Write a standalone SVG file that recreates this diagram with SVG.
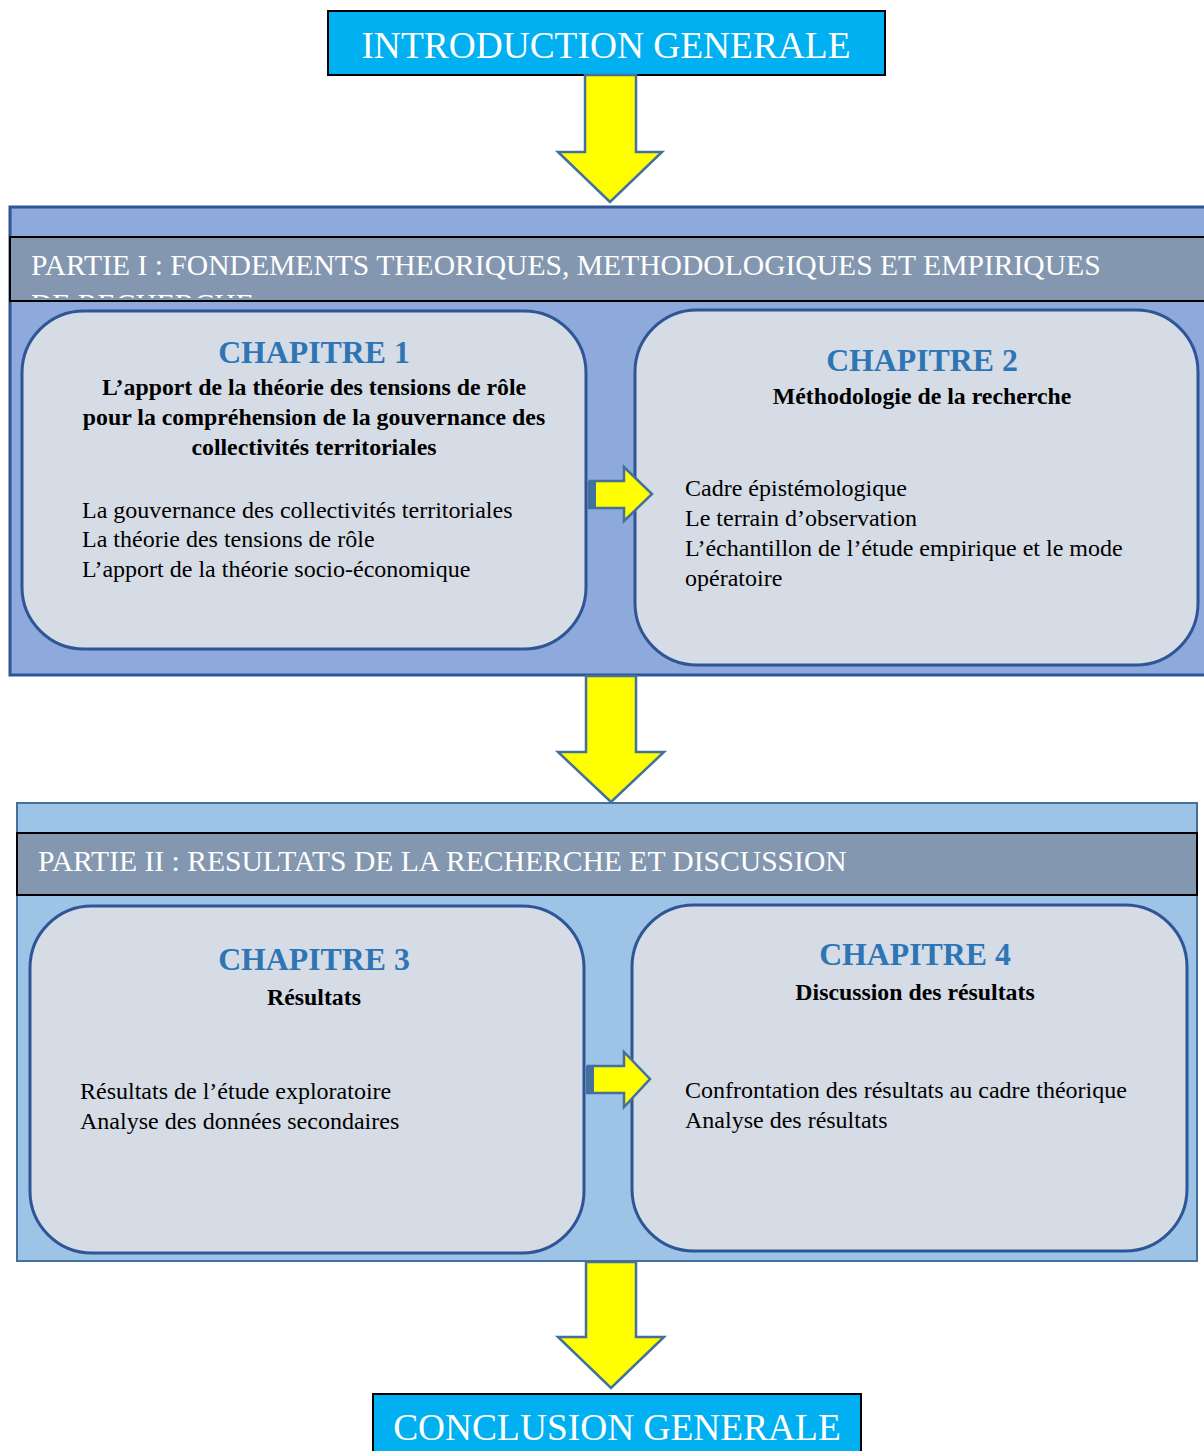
<svg xmlns="http://www.w3.org/2000/svg" width="1204" height="1451" viewBox="0 0 1204 1451">
<style>
  text { font-family: "Liberation Serif", "Times New Roman", serif; }
  .term { fill: #00B0F0; stroke: #000; stroke-width: 2; }
  .termtxt { fill: #fff; font-size: 37.4px; text-anchor: middle; }
  .band { fill: #8497B0; stroke: #000; stroke-width: 2; }
  .bandtxt { fill: #fff; font-size: 29.6px; }
  .chap { fill: #D6DCE5; stroke: #2F5597; stroke-width: 3; }
  .chaptitle { fill: #2E75B6; font-size: 31.8px; font-weight: bold; text-anchor: middle; }
  .sub { fill: #000; font-size: 23.8px; font-weight: bold; text-anchor: middle; }
  .body { fill: #000; font-size: 24px; }
  .arrow { fill: #FFFF00; stroke: #41719C; stroke-width: 2.5; stroke-linejoin: miter; }
  .stub { fill: #41719C; }
</style>
<defs>
  <clipPath id="bandclip1"><rect x="10" y="237" width="1194" height="61"/></clipPath>
</defs>
<rect width="1204" height="1451" fill="#fff"/>

<g id="intro">
  <rect class="term" x="328" y="11" width="557" height="64"/>
  <text class="termtxt" x="606" y="58">INTRODUCTION GENERALE</text>
</g>

<g id="partie1">
  <rect x="10" y="207" width="1198" height="468" fill="#8EA9DB" stroke="#2F5597" stroke-width="3"/>
  <rect class="band" x="10" y="237" width="1198" height="64"/>
  <text class="bandtxt" x="31" y="275">PARTIE I : FONDEMENTS THEORIQUES, METHODOLOGIQUES ET EMPIRIQUES</text>
  <text class="bandtxt" x="31" y="314" clip-path="url(#bandclip1)">DE RECHERCHE</text>
</g>

<g id="chapitre1">
  <rect class="chap" x="22" y="311" width="564" height="338" rx="62" ry="62"/>
  <text class="chaptitle" x="314" y="363">CHAPITRE 1</text>
  <text class="sub" x="314" y="395">L’apport de la théorie des tensions de rôle</text>
  <text class="sub" x="314" y="425">pour la compréhension de la gouvernance des</text>
  <text class="sub" x="314" y="455">collectivités territoriales</text>
  <text class="body" x="82" y="518">La gouvernance des collectivités territoriales</text>
  <text class="body" x="82" y="547">La théorie des tensions de rôle</text>
  <text class="body" x="82" y="577">L’apport de la théorie socio-économique</text>
</g>

<g id="chapitre2">
  <rect class="chap" x="635" y="310" width="563" height="355" rx="62" ry="62"/>
  <text class="chaptitle" x="922" y="371">CHAPITRE 2</text>
  <text class="sub" x="922" y="404">Méthodologie de la recherche</text>
  <text class="body" x="685" y="496">Cadre épistémologique</text>
  <text class="body" x="685" y="526">Le terrain d’observation</text>
  <text class="body" x="685" y="556">L’échantillon de l’étude empirique et le mode</text>
  <text class="body" x="685" y="586">opératoire</text>
</g>

<g id="partie2">
  <rect x="17" y="803" width="1180" height="458" fill="#9DC3E6" stroke="#41719C" stroke-width="2"/>
  <rect class="band" x="17" y="833" width="1180" height="62"/>
  <text class="bandtxt" x="38" y="871">PARTIE II : RESULTATS DE LA RECHERCHE ET DISCUSSION</text>
</g>

<g id="chapitre3">
  <rect class="chap" x="30" y="906" width="554" height="347" rx="62" ry="62" stroke="#41719C" stroke-width="2"/>
  <text class="chaptitle" x="314" y="970">CHAPITRE 3</text>
  <text class="sub" x="314" y="1005">Résultats</text>
  <text class="body" x="80" y="1099">Résultats de l’étude exploratoire</text>
  <text class="body" x="80" y="1129">Analyse des données secondaires</text>
</g>

<g id="chapitre4">
  <rect class="chap" x="632" y="905" width="555" height="346" rx="62" ry="62"/>
  <text class="chaptitle" x="915" y="965">CHAPITRE 4</text>
  <text class="sub" x="915" y="1000">Discussion des résultats</text>
  <text class="body" x="685" y="1098">Confrontation des résultats au cadre théorique</text>
  <text class="body" x="685" y="1128">Analyse des résultats</text>
</g>

<g id="conclusion">
  <rect class="term" x="373" y="1394" width="488" height="62"/>
  <text class="termtxt" x="617" y="1440">CONCLUSION GENERALE</text>
</g>

<g id="connectors">
  <polygon class="arrow" points="585,75 636,75 636,152 662,152 610,202 558,152 585,152"/>
  <polygon class="arrow" points="586,676 636,676 636,752 664,752 611,802 558,752 586,752"/>
  <polygon class="arrow" points="586,1262 636,1262 636,1337 664,1337 611,1388 558,1337 586,1337"/>
  <polygon class="arrow" points="590,481 624,481 624,467 652,494 624,521 624,508 590,508"/>
  <rect class="stub" x="588" y="481" width="8" height="28"/>
  <polygon class="arrow" points="588,1066 624,1066 624,1052 650,1079 624,1107 624,1093 588,1093"/>
  <rect class="stub" x="586" y="1066" width="8" height="28"/>
</g>
</svg>
